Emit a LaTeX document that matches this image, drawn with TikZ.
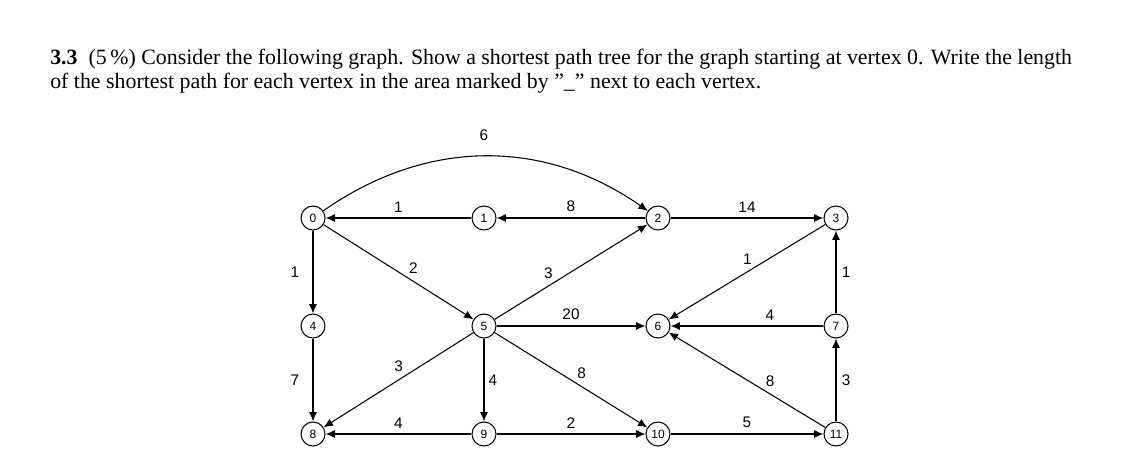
\documentclass[tikz,border=0pt]{standalone}
\usepackage{fontspec}
\setmainfont{Liberation Serif}
\setsansfont{Liberation Sans}
\usetikzlibrary{positioning, arrows.meta}
\tikzset{
vertex/.style={circle, draw, thick, minimum size=18pt, inner sep=0pt, font=\sffamily\small}, % the graph vertices
edge/.style={-{Latex[length=7pt,width=6pt]}, thick}, % directed edges
w/.style={font=\sffamily\fontsize{11.5}{13}\selectfont, inner sep=2pt}, % edge weights
}
\begin{document}
\begin{tikzpicture}[x=0.75pt, y=-0.75pt]
    \useasboundingbox (0,0) rectangle (1146,472);
    \node[anchor=base west, inner sep=0pt, font=\fontsize{16.4}{18}\selectfont] (line1) at (50,64)
        {\textbf{3.3}\ \ (5\,\%)\ Consider the following graph. Show a shortest path tree for the graph starting at vertex 0. Write the length};
    \node[anchor=base west, inner sep=0pt, font=\fontsize{16.4}{18}\selectfont] (line2) at (50,88)
        {of the shortest path for each vertex in the area marked by \symbol{34}\_\symbol{34} next to each vertex.};

    \node[vertex] (v0) at (313,218) {0};
    \node[vertex] (v1) at (484,218) {1};
    \node[vertex] (v2) at (658,218) {2};
    \node[vertex] (v3) at (836,218) {3};
    \node[vertex] (v4) at (313,326) {4};
    \node[vertex] (v5) at (484,326) {5};
    \node[vertex] (v6) at (658,326) {6};
    \node[vertex] (v7) at (836,326) {7};
    \node[vertex] (v8) at (313,434) {8};
    \node[vertex] (v9) at (484,434) {9};
    \node[vertex] (v10) at (658,434) {10};
    \node[vertex] (v11) at (836,434) {11};

    \draw[edge] (v0) to[out=35, in=145] (v2);
    \node[w] (l02) at (484,135) {6};
    \draw[edge] (v1) -- (v0) node[w, pos=0.5, above=2pt] {1};
    \draw[edge] (v2) -- (v1) node[w, pos=0.5, above=2pt] {8};
    \draw[edge] (v2) -- (v3) node[w, pos=0.5, above=2pt] {14};
    \draw[edge] (v0) -- (v4) node[w, pos=0.5, left=8pt] {1};
    \draw[edge] (v0) -- (v5) node[w, pos=0.55, above right=0pt] {2};
    \draw[edge] (v5) -- (v2) node[w, pos=0.4, above left=0pt] {3};
    \draw[edge] (v3) -- (v6) node[w, pos=0.45, above left=0pt] {1};
    \draw[edge] (v7) -- (v3) node[w, pos=0.5, right=2pt] {1};
    \draw[edge] (v5) -- (v6) node[w, pos=0.5, above=2pt] {20};
    \draw[edge] (v7) -- (v6) node[w, pos=0.35, above=2pt] {4};
    \draw[edge] (v4) -- (v8) node[w, pos=0.5, left=8pt] {7};
    \draw[edge] (v5) -- (v8) node[w, pos=0.45, above left=0pt] {3};
    \draw[edge] (v5) -- (v9) node[w, pos=0.5, right=1pt] {4};
    \draw[edge] (v5) -- (v10) node[w, pos=0.52, above right=0pt] {8};
    \draw[edge] (v11) -- (v6) node[w, pos=0.4, above right=0pt] {8};
    \draw[edge] (v11) -- (v7) node[w, pos=0.5, right=2pt] {3};
    \draw[edge] (v9) -- (v8) node[w, pos=0.5, above=2pt] {4};
    \draw[edge] (v9) -- (v10) node[w, pos=0.5, above=2pt] {2};
    \draw[edge] (v10) -- (v11) node[w, pos=0.5, above=2pt] {5};
\end{tikzpicture}
\end{document}
